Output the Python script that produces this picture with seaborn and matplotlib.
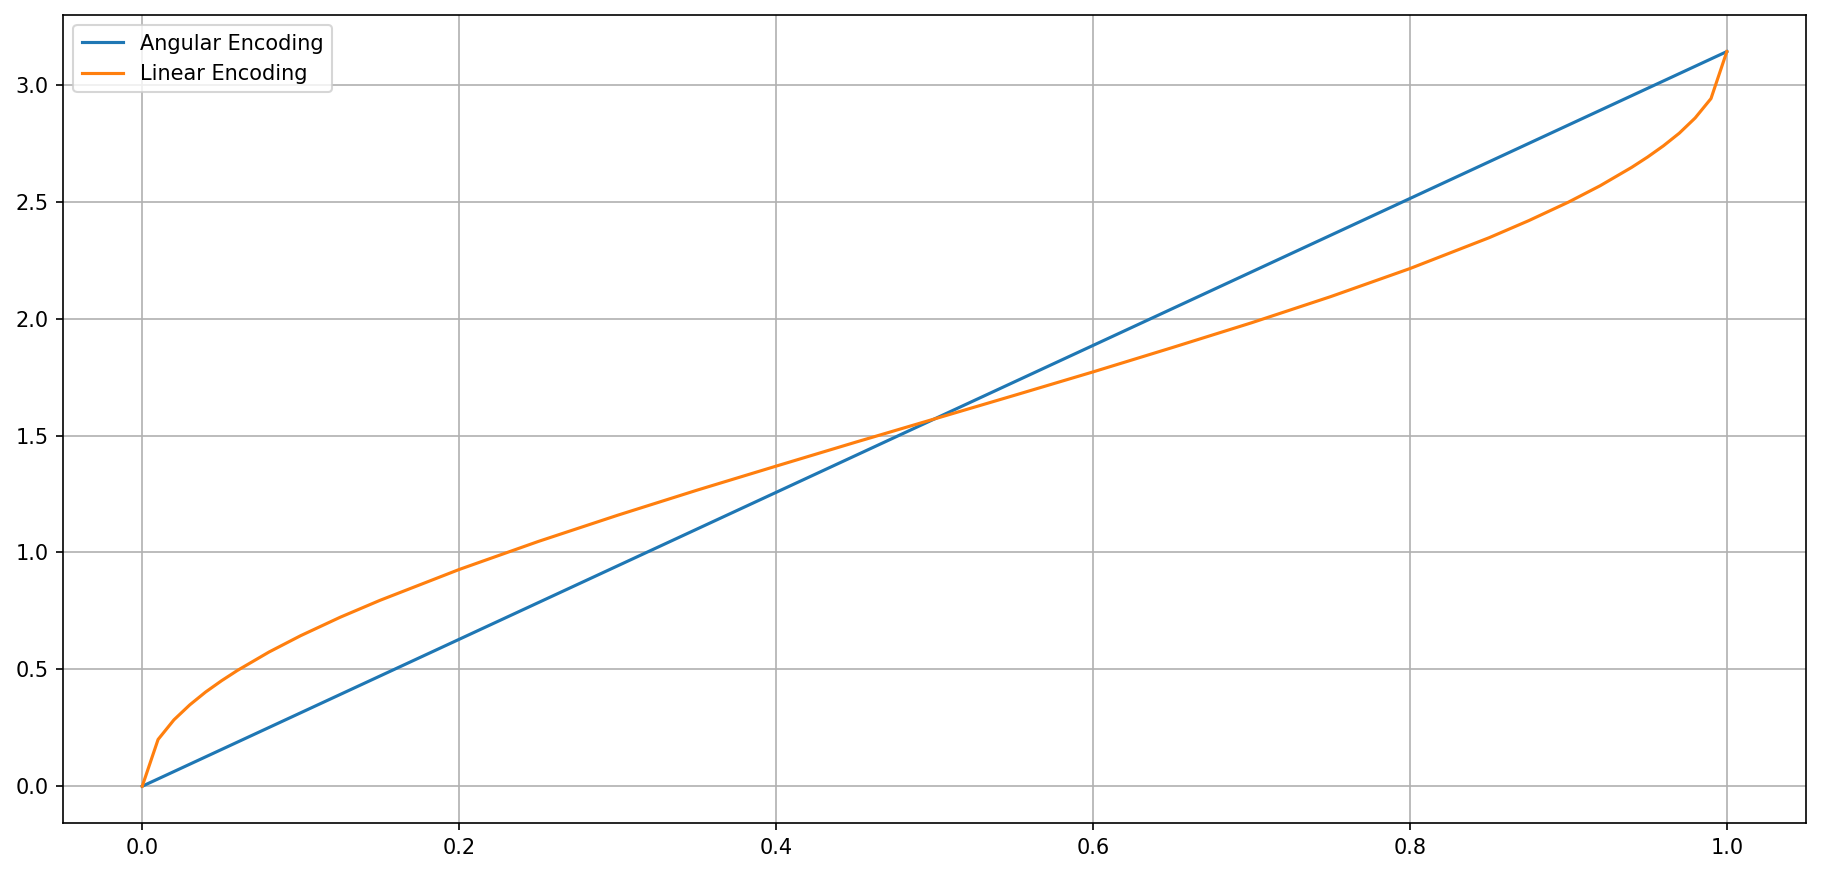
import matplotlib

matplotlib.use("Agg")
import matplotlib.pyplot as plt
import seaborn as sns

# encoded value, x in [0, 1]
x_linear = [0.0, 0.01, 0.02, 0.03, 0.04, 0.05, 0.06, 0.08, 0.10, 0.125, 0.15,
            0.20, 0.25, 0.30, 0.35, 0.40, 0.45, 0.50, 0.55, 0.60, 0.65, 0.70,
            0.75, 0.80, 0.85, 0.875, 0.90, 0.92, 0.94, 0.95, 0.96, 0.97, 0.98,
            0.99, 1.0]
y_linear = [0.0, 0.200, 0.284, 0.348, 0.403, 0.451, 0.495, 0.574, 0.644, 0.723,
            0.795, 0.927, 1.047, 1.159, 1.266, 1.369, 1.471, 1.571, 1.671,
            1.772, 1.876, 1.982, 2.094, 2.214, 2.346, 2.419, 2.498, 2.568,
            2.647, 2.691, 2.739, 2.793, 2.858, 2.941, 3.142]

x_angular = [0.0, 1.0]
y_angular = [0.0, 3.142]

plt.rcParams["font.family"] = "DejaVu Sans"

fig = plt.figure(figsize=(12.14, 5.82), dpi=150)
ax = fig.add_axes([0.0346, 0.0573, 0.9572, 0.9257])

sns.lineplot(x=x_angular, y=y_angular, ax=ax, color="#1f77b4", label="Angular Encoding")
sns.lineplot(x=x_linear, y=y_linear, ax=ax, color="#ff7f0e", label="Linear Encoding")

ax.grid(True)
ax.legend(loc="upper left")

fig.savefig("out.png", dpi=150)
